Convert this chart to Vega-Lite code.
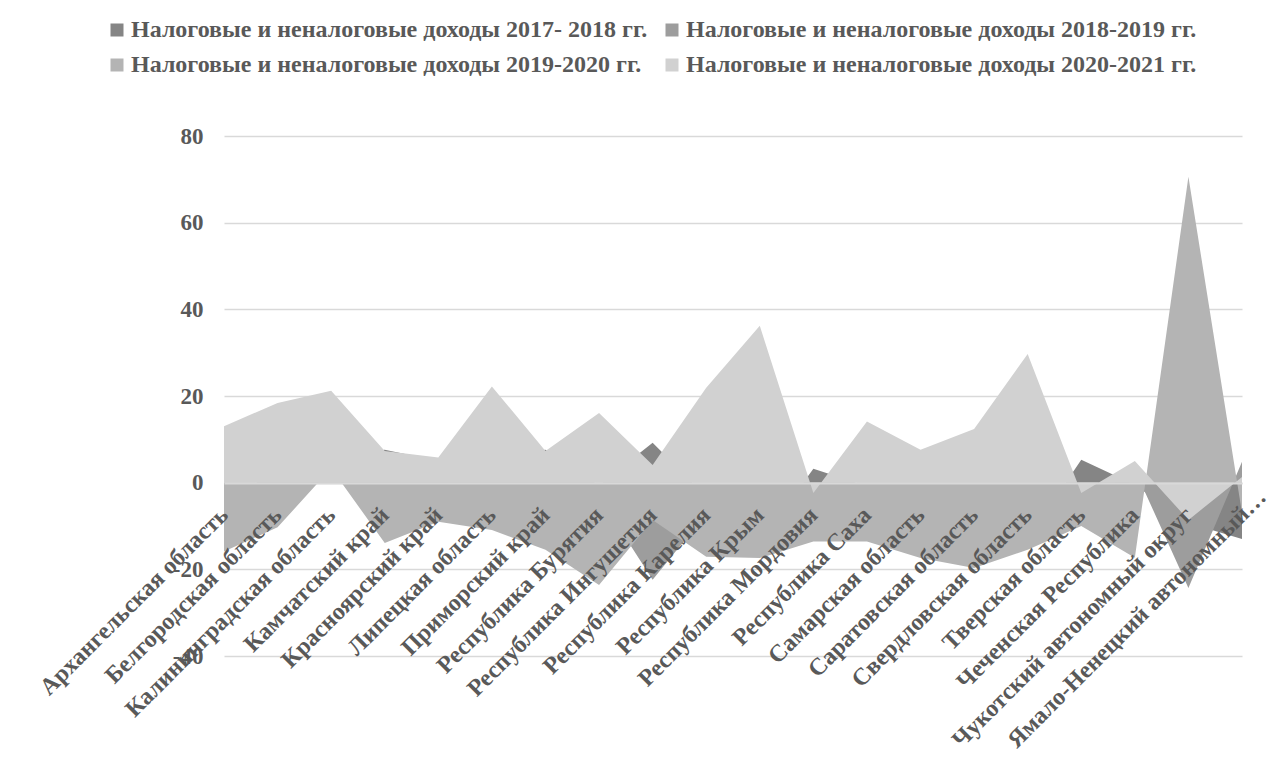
{
  "$schema": "https://vega.github.io/schema/vega-lite/v6.json",
  "width": 1018,
  "height": 520,
  "autosize": {"type": "none"},
  "padding": {"left": 224, "top": 136, "right": 39, "bottom": 107},
  "background": "white",
  "config": {"view": {"stroke": null}, "font": "Liberation Serif"},
  "data": {"values": [
    {"r": "Архангельская область", "s": "Налоговые и неналоговые доходы 2017- 2018 гг.", "v": -3},
    {"r": "Белгородская область", "s": "Налоговые и неналоговые доходы 2017- 2018 гг.", "v": 2},
    {"r": "Калининградская область", "s": "Налоговые и неналоговые доходы 2017- 2018 гг.", "v": 6},
    {"r": "Камчатский край", "s": "Налоговые и неналоговые доходы 2017- 2018 гг.", "v": 7.6},
    {"r": "Красноярский край", "s": "Налоговые и неналоговые доходы 2017- 2018 гг.", "v": 5.0},
    {"r": "Липецкая область", "s": "Налоговые и неналоговые доходы 2017- 2018 гг.", "v": 6},
    {"r": "Приморский край", "s": "Налоговые и неналоговые доходы 2017- 2018 гг.", "v": 7.6},
    {"r": "Республика Бурятия", "s": "Налоговые и неналоговые доходы 2017- 2018 гг.", "v": -0.6},
    {"r": "Республика Ингушетия", "s": "Налоговые и неналоговые доходы 2017- 2018 гг.", "v": 9.2},
    {"r": "Республика Карелия", "s": "Налоговые и неналоговые доходы 2017- 2018 гг.", "v": -3.2},
    {"r": "Республика Крым", "s": "Налоговые и неналоговые доходы 2017- 2018 гг.", "v": -13.8},
    {"r": "Республика Мордовия", "s": "Налоговые и неналоговые доходы 2017- 2018 гг.", "v": 3.2},
    {"r": "Республика Саха", "s": "Налоговые и неналоговые доходы 2017- 2018 гг.", "v": -0.8},
    {"r": "Самарская область", "s": "Налоговые и неналоговые доходы 2017- 2018 гг.", "v": -5},
    {"r": "Саратовская область", "s": "Налоговые и неналоговые доходы 2017- 2018 гг.", "v": -10},
    {"r": "Свердловская область", "s": "Налоговые и неналоговые доходы 2017- 2018 гг.", "v": -13},
    {"r": "Тверская область", "s": "Налоговые и неналоговые доходы 2017- 2018 гг.", "v": 5.3},
    {"r": "Чеченская Республика", "s": "Налоговые и неналоговые доходы 2017- 2018 гг.", "v": -0.5},
    {"r": "Чукотский автономный округ", "s": "Налоговые и неналоговые доходы 2017- 2018 гг.", "v": -9.3},
    {"r": "Ямало-Ненецкий автономный округ", "s": "Налоговые и неналоговые доходы 2017- 2018 гг.", "v": -13},

    {"r": "Архангельская область", "s": "Налоговые и неналоговые доходы 2018-2019 гг.", "v": -5},
    {"r": "Белгородская область", "s": "Налоговые и неналоговые доходы 2018-2019 гг.", "v": -3},
    {"r": "Калининградская область", "s": "Налоговые и неналоговые доходы 2018-2019 гг.", "v": 2},
    {"r": "Камчатский край", "s": "Налоговые и неналоговые доходы 2018-2019 гг.", "v": -6},
    {"r": "Красноярский край", "s": "Налоговые и неналоговые доходы 2018-2019 гг.", "v": -4},
    {"r": "Липецкая область", "s": "Налоговые и неналоговые доходы 2018-2019 гг.", "v": -5},
    {"r": "Приморский край", "s": "Налоговые и неналоговые доходы 2018-2019 гг.", "v": -8},
    {"r": "Республика Бурятия", "s": "Налоговые и неналоговые доходы 2018-2019 гг.", "v": -3.2},
    {"r": "Республика Ингушетия", "s": "Налоговые и неналоговые доходы 2018-2019 гг.", "v": -22.4},
    {"r": "Республика Карелия", "s": "Налоговые и неналоговые доходы 2018-2019 гг.", "v": -7.2},
    {"r": "Республика Крым", "s": "Налоговые и неналоговые доходы 2018-2019 гг.", "v": -10},
    {"r": "Республика Мордовия", "s": "Налоговые и неналоговые доходы 2018-2019 гг.", "v": -6},
    {"r": "Республика Саха", "s": "Налоговые и неналоговые доходы 2018-2019 гг.", "v": -8},
    {"r": "Самарская область", "s": "Налоговые и неналоговые доходы 2018-2019 гг.", "v": -9},
    {"r": "Саратовская область", "s": "Налоговые и неналоговые доходы 2018-2019 гг.", "v": -10},
    {"r": "Свердловская область", "s": "Налоговые и неналоговые доходы 2018-2019 гг.", "v": -8},
    {"r": "Тверская область", "s": "Налоговые и неналоговые доходы 2018-2019 гг.", "v": -5},
    {"r": "Чеченская Республика", "s": "Налоговые и неналоговые доходы 2018-2019 гг.", "v": 3},
    {"r": "Чукотский автономный округ", "s": "Налоговые и неналоговые доходы 2018-2019 гг.", "v": -24.3},
    {"r": "Ямало-Ненецкий автономный округ", "s": "Налоговые и неналоговые доходы 2018-2019 гг.", "v": 4.8},

    {"r": "Архангельская область", "s": "Налоговые и неналоговые доходы 2019-2020 гг.", "v": -15.9},
    {"r": "Белгородская область", "s": "Налоговые и неналоговые доходы 2019-2020 гг.", "v": -10.3},
    {"r": "Калининградская область", "s": "Налоговые и неналоговые доходы 2019-2020 гг.", "v": 3.3},
    {"r": "Камчатский край", "s": "Налоговые и неналоговые доходы 2019-2020 гг.", "v": -13.9},
    {"r": "Красноярский край", "s": "Налоговые и неналоговые доходы 2019-2020 гг.", "v": -9.0},
    {"r": "Липецкая область", "s": "Налоговые и неналоговые доходы 2019-2020 гг.", "v": -10.9},
    {"r": "Приморский край", "s": "Налоговые и неналоговые доходы 2019-2020 гг.", "v": -15.5},
    {"r": "Республика Бурятия", "s": "Налоговые и неналоговые доходы 2019-2020 гг.", "v": -23.6},
    {"r": "Республика Ингушетия", "s": "Налоговые и неналоговые доходы 2019-2020 гг.", "v": -8.6},
    {"r": "Республика Карелия", "s": "Налоговые и неналоговые доходы 2019-2020 гг.", "v": -17.1},
    {"r": "Республика Крым", "s": "Налоговые и неналоговые доходы 2019-2020 гг.", "v": -17.4},
    {"r": "Республика Мордовия", "s": "Налоговые и неналоговые доходы 2019-2020 гг.", "v": -13.6},
    {"r": "Республика Саха", "s": "Налоговые и неналоговые доходы 2019-2020 гг.", "v": -13.6},
    {"r": "Самарская область", "s": "Налоговые и неналоговые доходы 2019-2020 гг.", "v": -17.4},
    {"r": "Саратовская область", "s": "Налоговые и неналоговые доходы 2019-2020 гг.", "v": -19.7},
    {"r": "Свердловская область", "s": "Налоговые и неналоговые доходы 2019-2020 гг.", "v": -15.5},
    {"r": "Тверская область", "s": "Налоговые и неналоговые доходы 2019-2020 гг.", "v": -10},
    {"r": "Чеченская Республика", "s": "Налоговые и неналоговые доходы 2019-2020 гг.", "v": -17.3},
    {"r": "Чукотский автономный округ", "s": "Налоговые и неналоговые доходы 2019-2020 гг.", "v": 70.6},
    {"r": "Ямало-Ненецкий автономный округ", "s": "Налоговые и неналоговые доходы 2019-2020 гг.", "v": -7},

    {"r": "Архангельская область", "s": "Налоговые и неналоговые доходы 2020-2021 гг.", "v": 13.0},
    {"r": "Белгородская область", "s": "Налоговые и неналоговые доходы 2020-2021 гг.", "v": 18.4},
    {"r": "Калининградская область", "s": "Налоговые и неналоговые доходы 2020-2021 гг.", "v": 21.2},
    {"r": "Камчатский край", "s": "Налоговые и неналоговые доходы 2020-2021 гг.", "v": 7.3},
    {"r": "Красноярский край", "s": "Налоговые и неналоговые доходы 2020-2021 гг.", "v": 5.8},
    {"r": "Липецкая область", "s": "Налоговые и неналоговые доходы 2020-2021 гг.", "v": 22.2},
    {"r": "Приморский край", "s": "Налоговые и неналоговые доходы 2020-2021 гг.", "v": 7.3},
    {"r": "Республика Бурятия", "s": "Налоговые и неналоговые доходы 2020-2021 гг.", "v": 16.1},
    {"r": "Республика Ингушетия", "s": "Налоговые и неналоговые доходы 2020-2021 гг.", "v": 4.1},
    {"r": "Республика Карелия", "s": "Налоговые и неналоговые доходы 2020-2021 гг.", "v": 21.9},
    {"r": "Республика Крым", "s": "Налоговые и неналоговые доходы 2020-2021 гг.", "v": 36.2},
    {"r": "Республика Мордовия", "s": "Налоговые и неналоговые доходы 2020-2021 гг.", "v": -2.4},
    {"r": "Республика Саха", "s": "Налоговые и неналоговые доходы 2020-2021 гг.", "v": 14.1},
    {"r": "Самарская область", "s": "Налоговые и неналоговые доходы 2020-2021 гг.", "v": 7.6},
    {"r": "Саратовская область", "s": "Налоговые и неналоговые доходы 2020-2021 гг.", "v": 12.4},
    {"r": "Свердловская область", "s": "Налоговые и неналоговые доходы 2020-2021 гг.", "v": 29.7},
    {"r": "Тверская область", "s": "Налоговые и неналоговые доходы 2020-2021 гг.", "v": -2.4},
    {"r": "Чеченская Республика", "s": "Налоговые и неналоговые доходы 2020-2021 гг.", "v": 5.0},
    {"r": "Чукотский автономный округ", "s": "Налоговые и неналоговые доходы 2020-2021 гг.", "v": -8.6},
    {"r": "Ямало-Ненецкий автономный округ", "s": "Налоговые и неналоговые доходы 2020-2021 гг.", "v": 1.3}
  ]},
  "encoding": {
    "x": {
      "field": "r", "type": "nominal", "sort": null,
      "scale": {"type": "point", "padding": 0},
      "axis": {
        "title": null, "offset": -173, "labelAngle": -45, "labelAlign": "right", "labelBaseline": "middle",
        "labelFont": "Liberation Serif", "labelFontWeight": "bold", "labelFontSize": 24, "labelColor": "#595959",
        "labelPadding": {"condition": {"test": "datum.value == 'Ямало-Ненецкий автономный округ'", "value": 10}, "value": 28},
        "labelOffset": {"condition": {"test": "datum.value == 'Ямало-Ненецкий автономный округ'", "value": 20}, "value": 0},
        "ticks": false, "domainColor": "#d9d9d9", "domainWidth": 2, "grid": false,
        "labelOverlap": false, "labelLimit": 1000, "zindex": 1,
        "labelExpr": "datum.label == 'Ямало-Ненецкий автономный округ' ? 'Ямало-Ненецкий автономный…' : datum.label"
      }
    },
    "y": {
      "field": "v", "type": "quantitative", "stack": null,
      "scale": {"domain": [-40, 80], "nice": false},
      "axis": {
        "title": null, "values": [-40, -20, 0, 20, 40, 60, 80],
        "labelFont": "Liberation Serif", "labelFontWeight": "bold", "labelFontSize": 23, "labelColor": "#595959",
        "labelPadding": 21, "ticks": false, "domain": false, "gridColor": "#d9d9d9", "gridWidth": 1.5,
        "labelExpr": "'' + datum.value", "zindex": 0
      }
    },
    "color": {
      "field": "s", "type": "nominal",
      "scale": {
        "domain": ["Налоговые и неналоговые доходы 2017- 2018 гг.", "Налоговые и неналоговые доходы 2018-2019 гг.", "Налоговые и неналоговые доходы 2019-2020 гг.", "Налоговые и неналоговые доходы 2020-2021 гг."],
        "range": ["#858585", "#9d9d9d", "#b4b4b4", "#d1d1d1"]
      },
      "legend": {
        "title": null, "orient": "none", "legendX": -119, "legendY": -118, "columns": 2, "direction": "horizontal",
        "symbolType": "square", "symbolSize": 169, "symbolStrokeWidth": 0, "symbolOpacity": 1,
        "labelFont": "Liberation Serif", "labelFontSize": 24, "labelFontWeight": "bold", "labelColor": "#595959",
        "columnPadding": 12, "rowPadding": 11, "labelLimit": 1000, "labelOffset": 2, "padding": 0
      }
    }
  },
  "layer": [
    {"transform": [{"filter": "datum.s == 'Налоговые и неналоговые доходы 2017- 2018 гг.'"}], "mark": {"type": "area", "opacity": 1}},
    {"transform": [{"filter": "datum.s == 'Налоговые и неналоговые доходы 2018-2019 гг.'"}], "mark": {"type": "area", "opacity": 1}},
    {"transform": [{"filter": "datum.s == 'Налоговые и неналоговые доходы 2019-2020 гг.'"}], "mark": {"type": "area", "opacity": 1}},
    {"transform": [{"filter": "datum.s == 'Налоговые и неналоговые доходы 2020-2021 гг.'"}], "mark": {"type": "area", "opacity": 1}}
  ]
}
